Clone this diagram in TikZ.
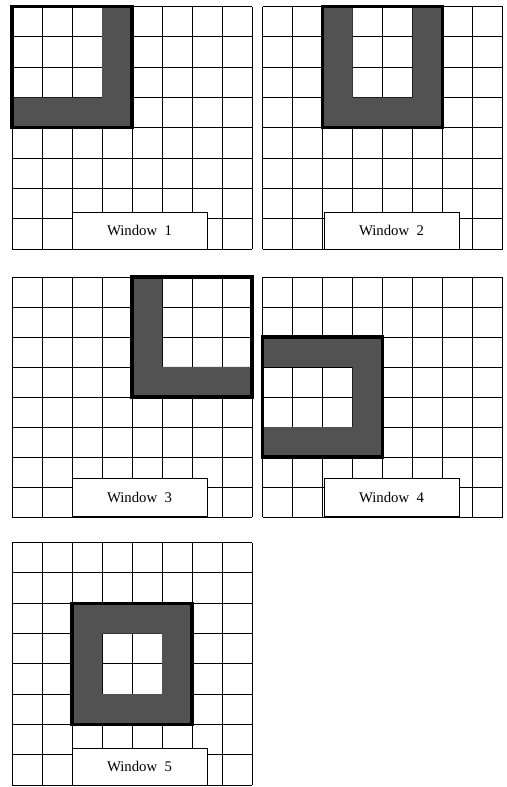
\documentclass[tikz,border=0pt]{standalone}
\usepackage{fontspec}
\setmainfont{Liberation Serif}

\begin{document}
\begin{tikzpicture}[
  font=\fontsize{14}{16}\selectfont,
  cellgrid/.style={draw=black, line width=0.9pt},
  shaded/.style={fill=black!68, even odd rule},
  frame/.style={draw=black, line width=3.2pt},
  wlabel/.style={draw, line width=0.6pt, fill=white, minimum width=45mm,
                 minimum height=12.5mm, inner sep=0pt},
]
\useasboundingbox (0,0) rectangle (16.867,-26.233);

% Window 1 (top left)
\begin{scope}[shift={(0.4,-8.3)}, yscale=1.01]
  \draw[cellgrid] (0,0) grid (8,8);
  \fill[shaded] (0,4) rectangle (4,8) (0,5) rectangle (3,8);
  \draw[frame] (0,4) rectangle (4,8);
  \node[wlabel] (win1) at (4.25,0.6) {Window~~1};
\end{scope}

% Window 2 (top right)
\begin{scope}[shift={(8.75,-8.3)}, yscale=1.01]
  \draw[cellgrid] (0,0) grid (8,8);
  \fill[shaded] (2,4) rectangle (6,8) (3,5) rectangle (5,8);
  \draw[frame] (2,4) rectangle (6,8);
  \node[wlabel] (win2) at (4.3,0.6) {Window~~2};
\end{scope}

% Window 3 (middle left)
\begin{scope}[shift={(0.4,-17.233)}]
  \draw[cellgrid] (0,0) grid (8,8);
  \fill[shaded] (4,4) rectangle (8,8) (5,5) rectangle (8,8);
  \draw[frame] (4,4) rectangle (8,8);
  \node[wlabel] (win3) at (4.25,0.65) {Window~~3};
\end{scope}

% Window 4 (middle right)
\begin{scope}[shift={(8.75,-17.233)}]
  \draw[cellgrid] (0,0) grid (8,8);
  \fill[shaded] (0,2) rectangle (4,6) (0,3) rectangle (3,5);
  \draw[frame] (0,2) rectangle (4,6);
  \node[wlabel] (win4) at (4.3,0.65) {Window~~4};
\end{scope}

% Window 5 (bottom left)
\begin{scope}[shift={(0.4,-26.167)}, yscale=1.01]
  \draw[cellgrid] (0,0) grid (8,8);
  \fill[shaded] (2,2) rectangle (6,6) (3,3) rectangle (5,5);
  \draw[frame] (2,2) rectangle (6,6);
  \node[wlabel] (win5) at (4.25,0.6) {Window~~5};
\end{scope}
\end{tikzpicture}
\end{document}
